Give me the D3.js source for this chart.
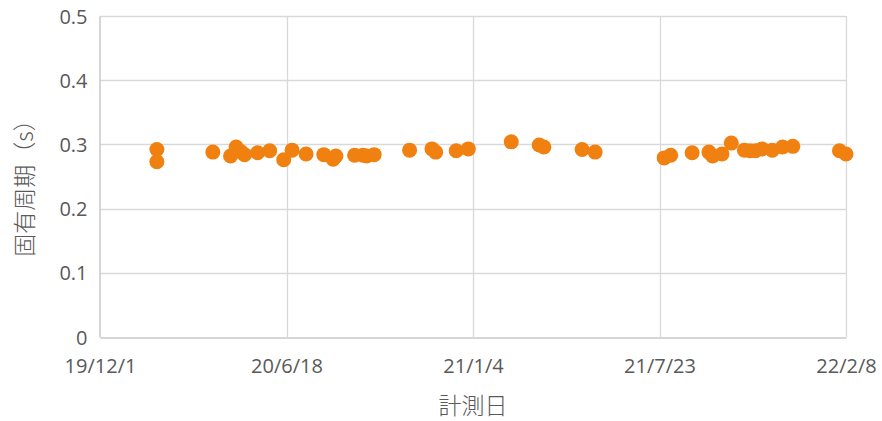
<!DOCTYPE html>
<html>
<head>
<meta charset="utf-8">
<script src="https://cdn.jsdelivr.net/npm/d3@7"></script>
<style>
  body { margin: 0; background: #fff; }
  text { font-family: "Open Sans", "Noto Sans", sans-serif; fill: #595959; }
  .jp { font-family: "Noto Sans CJK JP", sans-serif; font-weight: 300; }
</style>
</head>
<body>
<div id="chart"></div>
<script>
const w = 882;
const h = 421;
const margin = { top: 16, right: 36, bottom: 84, left: 100 };

// measurement dates and natural period (s)
const dates = [
  "2020-01-31", "2020-01-31", "2020-03-31", "2020-04-19", "2020-04-25",
  "2020-04-30", "2020-05-04", "2020-05-18", "2020-05-31", "2020-06-15",
  "2020-06-24", "2020-07-09", "2020-07-28", "2020-08-07", "2020-08-10",
  "2020-08-30", "2020-09-08", "2020-09-12", "2020-09-20", "2020-10-28",
  "2020-11-21", "2020-11-25", "2020-12-17", "2020-12-30", "2021-02-14",
  "2021-03-16", "2021-03-21", "2021-05-01", "2021-05-15", "2021-07-28",
  "2021-08-04", "2021-08-27", "2021-09-14", "2021-09-18", "2021-09-28",
  "2021-10-08", "2021-10-22", "2021-10-28", "2021-11-03", "2021-11-10",
  "2021-11-21", "2021-12-02", "2021-12-13", "2022-02-01", "2022-02-08"
];
const periods = [
  0.292, 0.273, 0.288, 0.282, 0.296,
  0.289, 0.284, 0.287, 0.290, 0.276,
  0.291, 0.285, 0.284, 0.277, 0.282,
  0.283, 0.283, 0.282, 0.284, 0.291,
  0.293, 0.288, 0.290, 0.293, 0.304,
  0.299, 0.296, 0.292, 0.288, 0.279,
  0.283, 0.287, 0.288, 0.282, 0.285,
  0.302, 0.291, 0.290, 0.290, 0.293,
  0.291, 0.296, 0.297, 0.290, 0.285
];
const xTicks = ["2019-12-01", "2020-06-18", "2021-01-04", "2021-07-23", "2022-02-08"];
const yTicks = [0, 0.1, 0.2, 0.3, 0.4, 0.5];

const parse = d3.utcParse("%Y-%m-%d");
const fmt = d => `${d.getUTCFullYear() % 100}/${d.getUTCMonth() + 1}/${d.getUTCDate()}`;

const x = d3.scaleUtc()
  .domain([parse(xTicks[0]), parse(xTicks[xTicks.length - 1])])
  .range([margin.left, w - margin.right]);
const y = d3.scaleLinear()
  .domain([0, 0.5])
  .range([h - margin.bottom, margin.top]);

const svg = d3.select("#chart")
  .append("svg")
  .attr("width", w)
  .attr("height", h);

// Gridlines
svg.append("g")
  .selectAll("line.hg")
  .data(yTicks.slice(1))
  .enter()
  .append("line")
  .attr("x1", margin.left)
  .attr("x2", w - margin.right)
  .attr("y1", d => Math.round(y(d)) + 0.5)
  .attr("y2", d => Math.round(y(d)) + 0.5)
  .attr("stroke", "#d9d9d9")
  .attr("stroke-width", 1.3);
svg.append("g")
  .selectAll("line.vg")
  .data(xTicks.slice(1))
  .enter()
  .append("line")
  .attr("x1", d => Math.round(x(parse(d))) + 0.5)
  .attr("x2", d => Math.round(x(parse(d))) + 0.5)
  .attr("y1", margin.top)
  .attr("y2", h - margin.bottom)
  .attr("stroke", "#d9d9d9")
  .attr("stroke-width", 1.3);

// Axes
const xAxis = svg.append("g")
  .attr("transform", `translate(0,${Math.round(y(0)) + 0.5})`)
  .call(d3.axisBottom(x).tickValues(xTicks.map(parse)).tickFormat(fmt).tickSize(0).tickPadding(21));
const yAxis = svg.append("g")
  .attr("transform", `translate(${margin.left - 0.5},0)`)
  .call(d3.axisLeft(y).tickValues(yTicks).tickFormat(d3.format("")).tickSize(0).tickPadding(12));
[xAxis, yAxis].forEach(a => {
  a.select(".domain").attr("stroke", "#c8c8c8").attr("stroke-width", 1.5);
  a.selectAll("text")
    .style("font-size", "20px")
    .style("fill", "#595959");
});
yAxis.selectAll("text").attr("dy", "0.35em");

// Points
svg.append("g")
  .selectAll("circle")
  .data(dates.map((d, i) => ({ date: parse(d), v: periods[i] })))
  .enter()
  .append("circle")
  .attr("cx", d => x(d.date))
  .attr("cy", d => y(d.v))
  .attr("r", 7.5)
  .attr("fill", "#f0800f");

// Axis titles
svg.append("text")
  .attr("class", "jp")
  .attr("x", (margin.left + w - margin.right) / 2)
  .attr("y", 414)
  .attr("text-anchor", "middle")
  .style("font-size", "23px")
  .text("計測日");
svg.append("text")
  .attr("class", "jp")
  .attr("transform", `translate(33,${(margin.top + h - margin.bottom) / 2 + 6}) rotate(-90)`)
  .attr("text-anchor", "middle")
  .style("font-size", "23px")
  .text("固有周期（s）");
</script>
</body>
</html>
